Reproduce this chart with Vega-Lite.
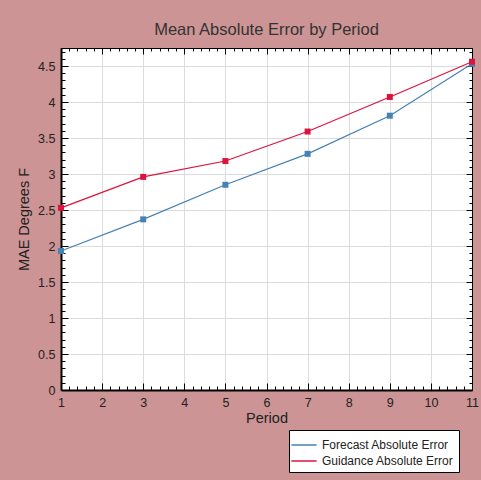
{
  "$schema": "https://vega.github.io/schema/vega-lite/v6.json",
  "autosize": "none",
  "width": 411,
  "height": 342,
  "padding": {"left": 61, "top": 48, "right": 9, "bottom": 90},
  "background": "#cc9494",
  "title": {"text": "Mean Absolute Error by Period", "fontSize": 16.5, "font": "Liberation Sans", "fontWeight": "normal", "color": "#333333", "offset": 9},
  "config": {
    "view": {"fill": "white", "stroke": "black", "strokeWidth": 1},
    "axis": {"labelFont": "Liberation Sans", "titleFont": "Liberation Sans", "labelColor": "#222222", "titleColor": "#222222", "titleFontWeight": "normal", "tickColor": "black", "domainColor": "black", "labelFlush": false}
  },
  "data": {"values": [
    {"period": 1, "series": "Forecast Absolute Error", "mae": 1.93},
    {"period": 3, "series": "Forecast Absolute Error", "mae": 2.37},
    {"period": 5, "series": "Forecast Absolute Error", "mae": 2.85},
    {"period": 7, "series": "Forecast Absolute Error", "mae": 3.28},
    {"period": 9, "series": "Forecast Absolute Error", "mae": 3.81},
    {"period": 11, "series": "Forecast Absolute Error", "mae": 4.53},
    {"period": 1, "series": "Guidance Absolute Error", "mae": 2.53},
    {"period": 3, "series": "Guidance Absolute Error", "mae": 2.96},
    {"period": 5, "series": "Guidance Absolute Error", "mae": 3.18},
    {"period": 7, "series": "Guidance Absolute Error", "mae": 3.59},
    {"period": 9, "series": "Guidance Absolute Error", "mae": 4.07},
    {"period": 11, "series": "Guidance Absolute Error", "mae": 4.56}
  ]},
  "resolve": {"axis": {"x": "independent", "y": "independent"}},
  "layer": [
    {
      "mark": {"type": "point", "opacity": 0},
      "encoding": {
        "x": {"field": "period", "type": "quantitative", "scale": {"domain": [1, 11], "nice": false, "zero": false},
          "axis": {"orient": "bottom", "values": [1.2,1.4,1.6,1.8,2.2,2.4,2.6,2.8,3.2,3.4,3.6,3.8,4.2,4.4,4.6,4.8,5.2,5.4,5.6,5.8,6.2,6.4,6.6,6.8,7.2,7.4,7.6,7.8,8.2,8.4,8.6,8.8,9.2,9.4,9.6,9.8,10.2,10.4,10.6,10.8], "labels": false, "grid": false, "domain": false, "tickSize": -4, "title": null}},
        "y": {"field": "mae", "type": "quantitative", "scale": {"domain": [0, 4.75], "nice": false, "zero": true},
          "axis": {"orient": "left", "values": [0.1,0.2,0.3,0.4,0.6,0.7,0.8,0.9,1.1,1.2,1.3,1.4,1.6,1.7,1.8,1.9,2.1,2.2,2.3,2.4,2.6,2.7,2.8,2.9,3.1,3.2,3.3,3.4,3.6,3.7,3.8,3.9,4.1,4.2,4.3,4.4,4.6,4.7], "labels": false, "grid": false, "domain": false, "tickSize": -4, "title": null}}
      }
    },
    {
      "mark": {"type": "point", "opacity": 0},
      "encoding": {
        "x": {"field": "period", "type": "quantitative",
          "axis": {"orient": "top", "values": [1.2,1.4,1.6,1.8,2.2,2.4,2.6,2.8,3.2,3.4,3.6,3.8,4.2,4.4,4.6,4.8,5.2,5.4,5.6,5.8,6.2,6.4,6.6,6.8,7.2,7.4,7.6,7.8,8.2,8.4,8.6,8.8,9.2,9.4,9.6,9.8,10.2,10.4,10.6,10.8], "labels": false, "grid": false, "domain": false, "tickSize": -3, "title": null}},
        "y": {"field": "mae", "type": "quantitative",
          "axis": {"orient": "right", "values": [0.1,0.2,0.3,0.4,0.6,0.7,0.8,0.9,1.1,1.2,1.3,1.4,1.6,1.7,1.8,1.9,2.1,2.2,2.3,2.4,2.6,2.7,2.8,2.9,3.1,3.2,3.3,3.4,3.6,3.7,3.8,3.9,4.1,4.2,4.3,4.4,4.6,4.7], "labels": false, "grid": false, "domain": false, "tickSize": -3, "title": null}}
      }
    },
    {
      "mark": {"type": "point", "opacity": 0},
      "encoding": {
        "x": {"field": "period", "type": "quantitative",
          "axis": {"orient": "top", "values": [1,2,3,4,5,6,7,8,9,10,11], "labels": false, "grid": false, "domain": true, "domainWidth": 1, "tickSize": -6, "title": null}},
        "y": {"field": "mae", "type": "quantitative",
          "axis": {"orient": "right", "values": [0,0.5,1,1.5,2,2.5,3,3.5,4,4.5], "labels": false, "grid": false, "domain": true, "domainWidth": 1, "tickSize": -6, "title": null}}
      }
    },
    {
      "mark": {"type": "line", "strokeWidth": 1.2, "point": {"shape": "square", "filled": true, "size": 36, "opacity": 1}},
      "encoding": {
        "x": {"field": "period", "type": "quantitative",
          "axis": {"orient": "bottom", "values": [1,2,3,4,5,6,7,8,9,10,11], "grid": true, "gridColor": "#dcdcdc", "gridWidth": 1, "domain": true, "domainWidth": 2, "tickSize": -7, "tickWidth": 1, "labelPadding": 13, "labelFontSize": 12.5, "title": "Period", "titleFontSize": 14.5, "titlePadding": 3}},
        "y": {"field": "mae", "type": "quantitative",
          "axis": {"orient": "left", "values": [0,0.5,1,1.5,2,2.5,3,3.5,4,4.5], "format": "~g", "grid": true, "gridColor": "#dcdcdc", "gridWidth": 1, "domain": true, "domainWidth": 2, "tickSize": -7, "tickWidth": 1, "labelPadding": 13, "labelFontSize": 12.5, "title": "MAE Degrees F", "titleFontSize": 14.5, "titlePadding": 6}},
        "color": {"field": "series", "type": "nominal",
          "scale": {"domain": ["Forecast Absolute Error", "Guidance Absolute Error"], "range": ["#4682b4", "#dc143c"]},
          "legend": {"orient": "none", "legendX": 228, "legendY": 382, "title": null, "fillColor": "white", "strokeColor": "black", "padding": 5, "symbolType": "M-1.4,0H1.4", "symbolSize": 324, "symbolStrokeWidth": 1.5, "labelFontSize": 12, "labelFont": "Liberation Sans", "labelColor": "#222222", "rowPadding": 0, "labelOffset": 8}}
      }
    }
  ]
}
